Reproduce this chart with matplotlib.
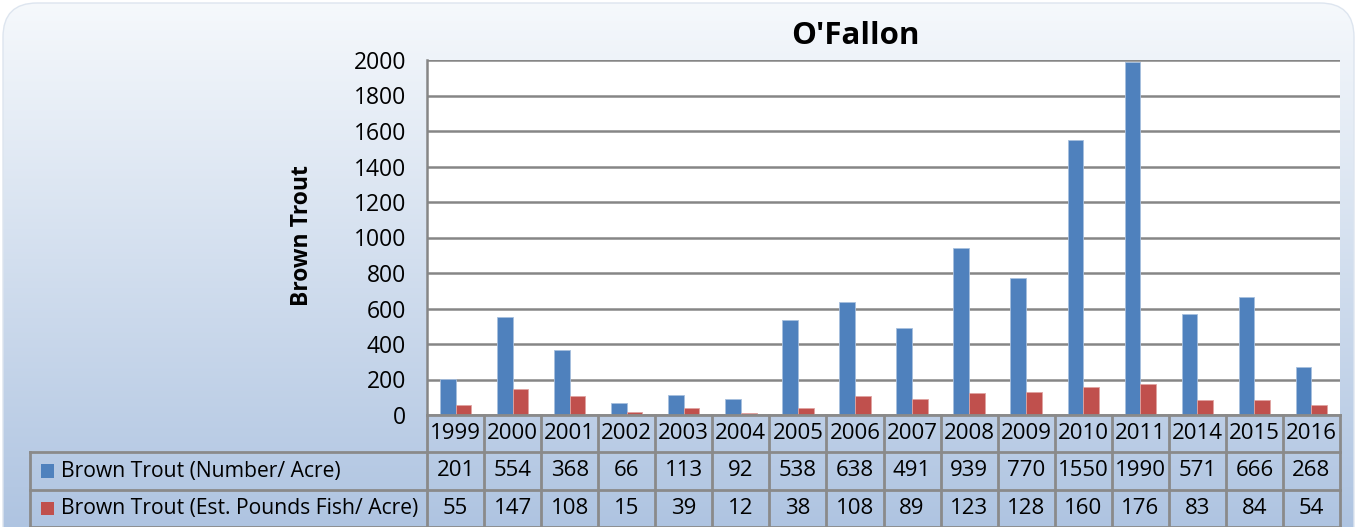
import numpy as np
import matplotlib.pyplot as plt
from matplotlib.patches import FancyBboxPatch, Rectangle

years = ['1999', '2000', '2001', '2002', '2003', '2004', '2005', '2006', '2007',
         '2008', '2009', '2010', '2011', '2014', '2015', '2016']
number_acre = [201, 554, 368, 66, 113, 92, 538, 638, 491, 939, 770, 1550, 1990, 571, 666, 268]
pounds_acre = [55, 147, 108, 15, 39, 12, 38, 108, 89, 123, 128, 160, 176, 83, 84, 54]
series_names = ['Brown Trout (Number/ Acre)', 'Brown Trout (Est. Pounds Fish/ Acre)']

blue = '#4f81bd'
red = '#c0504d'
grid_c = '#868686'
font = 'Open Sans'

W, H = 1357, 527
fig = plt.figure(figsize=(W / 100, H / 100), dpi=100)
fig.patch.set_facecolor('white')

# background gradient inside a rounded box
bg = fig.add_axes([0, 0, 1, 1], zorder=-5)
bg.set_xlim(0, W)
bg.set_ylim(H, 0)
bg.axis('off')
top = np.array([246, 249, 252]) / 255
bot = np.array([172, 194, 224]) / 255
t = np.linspace(0, 1, 256)[:, None]
grad = (top[None, None, :] * (1 - t[..., None]) + bot[None, None, :] * t[..., None])
grad = np.repeat(grad, 2, axis=1)
im = bg.imshow(grad, extent=(0, W, H + 20, 0), aspect='auto')
box = FancyBboxPatch((3, 3), W - 6, H + 40, boxstyle='round,pad=0,rounding_size=34',
                     facecolor='none', edgecolor='#dde5ef', lw=1, transform=bg.transData)
bg.add_patch(box)
im.set_clip_path(box)

# main plot area
x0, x1, ytop, ybot = 427, 1340, 60, 415
ax = fig.add_axes([x0 / W, (H - ybot) / H, (x1 - x0) / W, (ybot - ytop) / H])
ax.set_facecolor('white')
n = len(years)
x = np.arange(n)
bw = 0.275
ax.bar(x - bw / 2, number_acre, bw, color=blue, edgecolor='#a7bfde', lw=0.6, zorder=3)
ax.bar(x + bw / 2, pounds_acre, bw, color=red, edgecolor='#e0a3a1', lw=0.6, zorder=3)
ax.set_xlim(-0.5, n - 0.5)
ax.set_ylim(0, 2000)
ax.set_yticks(range(0, 2001, 200))
ax.yaxis.grid(True, color=grid_c, lw=1.8, zorder=1)
ax.set_xticks([])
ax.tick_params(axis='y', length=0, pad=15, labelsize=16.5)
for lab in ax.get_yticklabels():
    lab.set_fontfamily(font)
for s in ['top', 'right', 'bottom']:
    ax.spines[s].set_visible(False)
ax.spines['left'].set_color(grid_c)
ax.spines['left'].set_linewidth(1.8)
fig.text(855 / W, (H - 36) / H, "O'Fallon", ha='center', va='center',
         fontsize=22.5, fontweight='bold', fontfamily=font)
fig.text(302 / W, (H - 236) / H, 'Brown Trout', ha='center', va='center', rotation=90,
         fontsize=16.5, fontweight='bold', fontfamily=font)

# data table
tx0 = 30
cw = (x1 - x0) / n
lab_w = (x0 - tx0) / cw
tax = fig.add_axes([tx0 / W, 0, (x1 - tx0) / W, (H - ybot) / H])
tax.set_xlim(-0.5 - lab_w, n - 0.5)
tax.set_ylim(0, 3)
tax.axis('off')
lc = '#8a8a8a'
lw = 2
# horizontal lines
tax.plot([-0.5, n - 0.5], [3, 3], color=lc, lw=lw, clip_on=False)
tax.plot([-0.5 - lab_w, n - 0.5], [2, 2], color=lc, lw=lw, clip_on=False)
tax.plot([-0.5 - lab_w, n - 0.5], [1, 1], color=lc, lw=lw, clip_on=False)
tax.plot([-0.5 - lab_w, n - 0.5], [0, 0], color=lc, lw=lw, clip_on=False)
# vertical lines
for i in range(n + 1):
    tax.plot([i - 0.5, i - 0.5], [0, 3], color=lc, lw=lw, clip_on=False)
tax.plot([-0.5 - lab_w] * 2, [0, 2], color=lc, lw=lw, clip_on=False)

fs = 16
for i in range(n):
    tax.text(i, 2.5, years[i], ha='center', va='center', fontsize=fs, fontfamily=font)
    tax.text(i, 1.5, str(number_acre[i]), ha='center', va='center', fontsize=fs, fontfamily=font)
    tax.text(i, 0.5, str(pounds_acre[i]), ha='center', va='center', fontsize=fs, fontfamily=font)

for row, (name, col) in enumerate(zip(series_names, [blue, red])):
    yc = 1.5 - row
    sq = 13 / cw
    tax.add_patch(Rectangle((-0.5 - lab_w + 11 / cw, yc - 0.18), sq, 0.36,
                            facecolor=col, edgecolor='none', clip_on=False))
    tax.text(-0.5 - lab_w + 31 / cw, yc, name, ha='left', va='center',
             fontsize=15.2, fontfamily=font)

plt.savefig('out.png', dpi=100)
